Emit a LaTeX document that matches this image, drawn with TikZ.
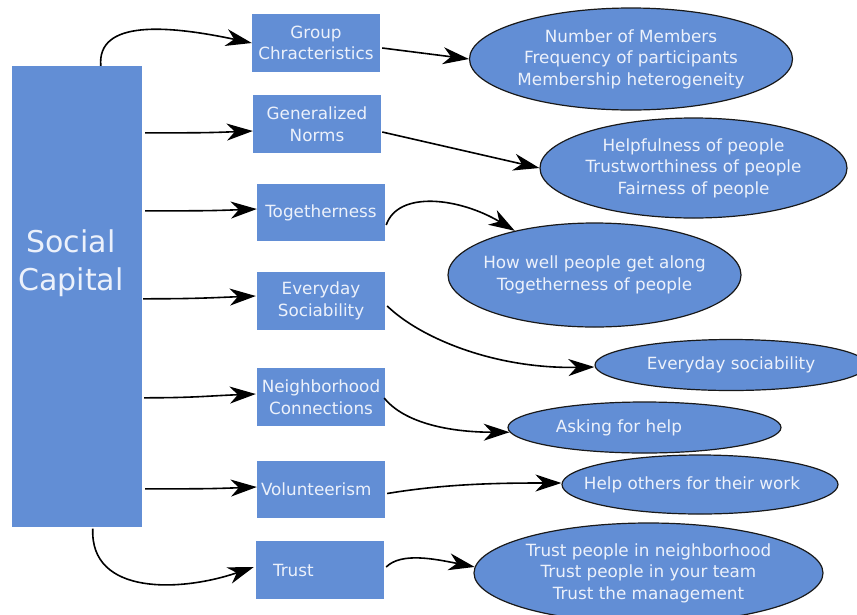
\documentclass[tikz,border=0pt]{standalone}
\usepackage{fontspec}
\setmainfont{DejaVu Sans}
\usetikzlibrary{arrows.meta,calc,shapes.geometric}
\definecolor{boxblue}{RGB}{98,142,213}
\definecolor{txt}{RGB}{236,241,251}
\begin{document}
\begin{tikzpicture}[x=1pt,y=-1pt,
  stepbox/.style={rectangle, fill=boxblue, text=txt, minimum width=128pt, minimum height=58pt,
    inner sep=0pt, align=center, font=\fontsize{16.8}{21.5}\selectfont},
  oval/.style={ellipse, draw=black!90, line width=1.2pt, fill=boxblue, text=txt,
    inner xsep=-25pt, inner ysep=-10pt, align=center, font=\fontsize{16.8}{21.5}\selectfont},
  lbl/.style={text=txt, align=center, font=\fontsize{16.8}{21.5}\selectfont},
  conn/.style={line width=1.6pt, -{Stealth[length=26pt,width=17pt,inset=8pt]}}
]
\useasboundingbox (0,0) rectangle (857,614);

% main block
\node[stepbox, minimum width=130pt, minimum height=461pt] (sc) at (77,296.5) {};
\node[lbl, font=\fontsize{30}{38}\selectfont] (sctxt) at (71,263) {Social\\Capital};

% middle boxes
\node[stepbox] (gc) at (316,43) {Group\\Chracteristics};
\node[stepbox] (gn) at (317,124) {Generalized\\Norms};
\node[stepbox, minimum height=57pt] (tg) at (321,212.5) {Togetherness};
\node[stepbox] (es) at (321,301) {Everyday\\Sociability};
\node[stepbox] (nc) at (321,397) {Neighborhood\\Connections};
\node[stepbox, minimum height=57pt, text width=120pt, inner xsep=4pt, align=left] (vo) at (321,489.5) {Volunteerism};
\node[stepbox, text width=94pt, inner xsep=17pt, align=left] (tr) at (320,570) {Trust};

% ellipses
\node[oval, minimum width=323pt, minimum height=102pt] (e1) at (631,59)
  {Number of Members\\Frequency of participants\\Membership heterogeneity};
\node[oval, minimum width=307pt, minimum height=100pt] (e2) at (693.5,168)
  {Helpfulness of people\\Trustworthiness of people\\Fairness of people};
\node[oval, minimum width=293pt, minimum height=104pt] (e3) at (594.5,275)
  {How well people get along\\Togetherness of people};
\node[oval, minimum width=272pt, minimum height=51pt] (e4) at (731,365)
  {Everyday sociability};
\node[oval, minimum width=273pt, minimum height=51pt,
  label={[lbl,xshift=-25.5pt]center:Asking for help}] (e5) at (644.5,427.5) {};
\node[oval, minimum width=276pt, minimum height=59pt,
  label={[lbl,xshift=-8pt]center:Help others for their work}] (e6) at (700,484.5) {};
\node[oval, minimum width=349pt, minimum height=100pt] (e7) at (648.5,573)
  {Trust people in neighborhood\\Trust people in your team\\Trust the management};

% left connectors
\draw[conn] ($(sc.north west)+(89,0)$) .. controls +(-4,-46) and +(-85,-18) .. (gc.west);
\draw[conn] ($(sc.north east)+(3,67)$) .. controls +(50,0) and +(-50,2) .. ($(gn.west)+(0,7)$);
\draw[conn] ($(sc.north east)+(3,145)$) .. controls +(50,0) and +(-50,2) .. ($(tg.west)+(0,-3.5)$);
\draw[conn] ($(sc.north east)+(1,233)$) .. controls +(50,0) and +(-50,2) .. ($(es.west)+(-1,-5)$);
\draw[conn] ($(sc.north east)+(2,332)$) .. controls +(50,0) and +(-50,2) .. ($(nc.west)+(-1,-3)$);
\draw[conn] ($(sc.north east)+(3,423)$) .. controls +(50,0) and +(-50,2) .. ($(vo.west)+(0,-2.5)$);
\draw[conn] ($(sc.south west)+(81,1.5)$) .. controls +(-3,67) and +(-73,25) .. ($(tr.west)+(-2,-3)$);

% right connectors
\draw[conn] ($(gc.east)+(2,5)$) -- (e1.west);
\draw[conn] ($(gn.east)+(1,8)$) -- (e2.west);
\draw[conn] ($(tg.east)+(1,12.5)$) .. controls +(12,-35) and +(-55,-33) .. (e3.151);
\draw[conn] ($(es.east)+(2,5)$) .. controls +(33,32) and +(-100,2) .. ($(e4.west)+(0,2)$);
\draw[conn] ($(nc.east)+(-1,1)$) .. controls +(20,25) and +(-60,0) .. (e5.182);
\draw[conn] ($(vo.east)+(2,4)$) .. controls +(60,-10) and +(-60,0) .. ($(e6.west)+(0,-1.5)$);
\draw[conn] ($(tr.east)+(2,-3)$) .. controls +(15,-15) and +(-40,-8) .. (e7.178);
\end{tikzpicture}
\end{document}
